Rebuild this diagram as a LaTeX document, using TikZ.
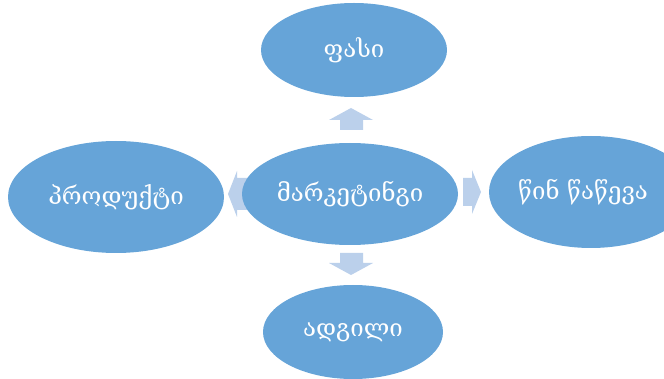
\documentclass[tikz,border=0pt]{standalone}
\usepackage{fontspec}
\newfontfamily\geofont[Script=Georgian]{DejaVu Serif}
\definecolor{ellblue}{RGB}{102,164,216}
\definecolor{arrblue}{RGB}{187,208,235}
\begin{document}
\begin{tikzpicture}[x=1pt,y=-1pt,
  ell/.style={ellipse, fill=ellblue, draw=none},
  lbl/.style={text=white, font=\geofont\fontsize{24}{28}\selectfont},
  blockarr/.style={fill=arrblue, draw=none}]
\useasboundingbox (0,0) rectangle (664,379);
% block arrows
\path[blockarr] (340,130) -- (340,120) -- (329,120) -- (351,108) -- (373,120) -- (363,120) -- (363,130) -- cycle;
\path[blockarr] (340,253) -- (363,253) -- (363,263) -- (373,263) -- (351,275) -- (329,263) -- (340,263) -- cycle;
\path[blockarr] (463,178) -- (472,178) -- (472,170) -- (481,192) -- (472,214) -- (472,206) -- (463,206) -- cycle;
\path[blockarr] (248,178) -- (237,178) -- (237,171) -- (228,194) -- (237,217) -- (237,210) -- (248,210) -- cycle;
% ellipses
\fill[ellblue] (350,194) ellipse [x radius=108, y radius=51];
\fill[ellblue] (354,50) ellipse [x radius=93, y radius=47];
\fill[ellblue] (353,332) ellipse [x radius=90, y radius=47];
\fill[ellblue] (116,197) ellipse [x radius=108, y radius=56];
\fill[ellblue] (591,192) ellipse [x radius=102, y radius=56];
% labels
\node[lbl] (c) at (350,194) {მარკეტინგი};
\node[lbl] (t) at (354,50) {ფასი};
\node[lbl] (b) at (353,332) {ადგილი};
\node[lbl] (l) at (116,197) {პროდუქტი};
\node[lbl] (r) at (583,192) {წინ წაწევა};
\end{tikzpicture}
\end{document}
